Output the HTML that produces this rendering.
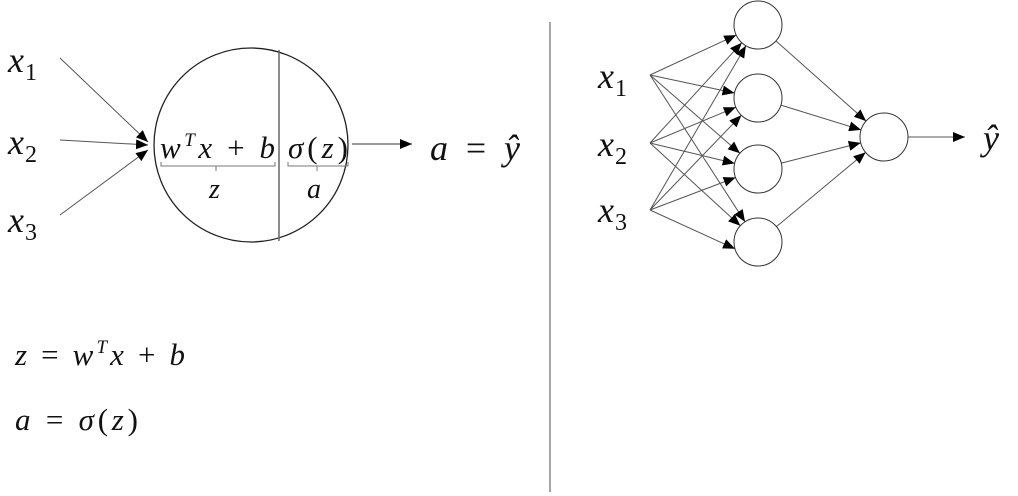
<!DOCTYPE html>
<html><head><meta charset="utf-8"><style>
html,body{margin:0;padding:0;background:#fff;}
svg{display:block;}
text{font-family:"Liberation Serif",serif;font-style:italic;fill:#111;}
.n{font-style:normal;}
</style></head><body>
<svg width="1018" height="496" viewBox="0 0 1018 496" xmlns="http://www.w3.org/2000/svg">
<defs>
<marker id="ar" markerWidth="12" markerHeight="10" refX="12" refY="5" orient="auto" markerUnits="userSpaceOnUse">
<path d="M0,0 L12,5 L0,10 Z" fill="#000"/>
</marker>
</defs>
<g stroke="#555" stroke-width="1" fill="none">
<line x1="60" y1="58" x2="148" y2="142" marker-end="url(#ar)"/>
<line x1="60" y1="140" x2="148" y2="145" marker-end="url(#ar)"/>
<line x1="60" y1="215" x2="148" y2="150" marker-end="url(#ar)"/>
<circle cx="251" cy="145" r="97" stroke="#222" stroke-width="1.3"/>
<line x1="279" y1="50" x2="279" y2="241" stroke="#666" stroke-width="1.5"/>
<line x1="352" y1="144" x2="412" y2="144" stroke="#333" marker-end="url(#ar)"/>
<path d="M161,162 v4 h114 v-4 M216,166 v5" stroke="#777"/>
<path d="M288,162 v4 h60 v-4 M317,166 v5" stroke="#777"/>
<line x1="550" y1="22" x2="550" y2="492" stroke="#888" stroke-width="1.5"/>
<line x1="650" y1="75" x2="736.2" y2="35.1" marker-end="url(#ar)"/>
<line x1="650" y1="75" x2="734.5" y2="93" marker-end="url(#ar)"/>
<line x1="650" y1="75" x2="739.9" y2="153.3" marker-end="url(#ar)"/>
<line x1="650" y1="75" x2="745" y2="221.8" marker-end="url(#ar)"/>
<line x1="650" y1="143" x2="741.8" y2="42.7" marker-end="url(#ar)"/>
<line x1="650" y1="143" x2="735.8" y2="107.2" marker-end="url(#ar)"/>
<line x1="650" y1="143" x2="734.7" y2="163.4" marker-end="url(#ar)"/>
<line x1="650" y1="143" x2="740.3" y2="225.8" marker-end="url(#ar)"/>
<line x1="650" y1="210" x2="745.9" y2="45.7" marker-end="url(#ar)"/>
<line x1="650" y1="210" x2="741.3" y2="115.3" marker-end="url(#ar)"/>
<line x1="650" y1="210" x2="735.6" y2="177.5" marker-end="url(#ar)"/>
<line x1="650" y1="210" x2="735" y2="248.8" marker-end="url(#ar)"/>
<line x1="775.9" y1="40.9" x2="866.1" y2="121.1" marker-end="url(#ar)"/>
<line x1="780.9" y1="105.1" x2="861.1" y2="129.9" marker-end="url(#ar)"/>
<line x1="781.3" y1="163.1" x2="860.7" y2="142.9" marker-end="url(#ar)"/>
<line x1="776.4" y1="226.6" x2="865.6" y2="152.4" marker-end="url(#ar)"/>
<line x1="908" y1="137" x2="965" y2="137" marker-end="url(#ar)"/>
<g stroke="#333">
<circle cx="758" cy="25" r="24"/>
<circle cx="758" cy="98" r="24"/>
<circle cx="758" cy="169" r="24"/>
<circle cx="758" cy="242" r="24"/>
<circle cx="884" cy="137" r="24"/>
</g>
</g>
<text x="8" y="72" font-size="36">x<tspan class="n" font-size="24" dy="8" dx="1">1</tspan></text>
<text x="8" y="154" font-size="36">x<tspan class="n" font-size="24" dy="8" dx="1">2</tspan></text>
<text x="8" y="232" font-size="36">x<tspan class="n" font-size="24" dy="8" dx="1">3</tspan></text>
<text x="160" y="158" font-size="31" textLength="115">w<tspan font-size="19" dy="-12">T</tspan><tspan dy="12">x</tspan><tspan class="n"> + </tspan>b</text>
<text x="288" y="158" font-size="31" textLength="60">σ<tspan class="n">(</tspan>z<tspan class="n">)</tspan></text>
<text x="209" y="198" font-size="28">z</text>
<text x="307" y="198" font-size="28">a</text>
<text x="430" y="160" font-size="36" textLength="90">a <tspan class="n">=</tspan> ŷ</text>
<text x="15" y="365" font-size="31" textLength="170">z <tspan class="n">=</tspan> w<tspan font-size="19" dy="-12">T</tspan><tspan dy="12">x</tspan><tspan class="n"> + </tspan>b</text>
<text x="15" y="430" font-size="31" textLength="123">a <tspan class="n">=</tspan> σ<tspan class="n">(</tspan>z<tspan class="n">)</tspan></text>
<text x="598" y="88" font-size="36">x<tspan class="n" font-size="24" dy="8" dx="1">1</tspan></text>
<text x="598" y="156" font-size="36">x<tspan class="n" font-size="24" dy="8" dx="1">2</tspan></text>
<text x="598" y="222" font-size="36">x<tspan class="n" font-size="24" dy="8" dx="1">3</tspan></text>
<text x="983" y="150" font-size="36">ŷ</text>
</svg>
</body></html>
